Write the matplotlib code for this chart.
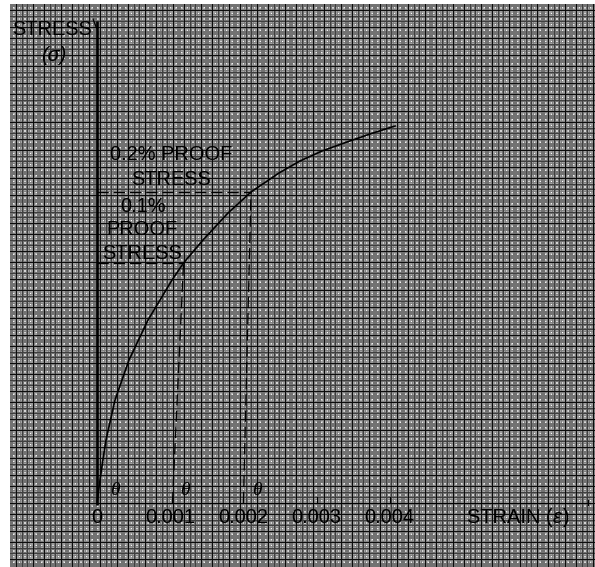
import numpy as np
import matplotlib
matplotlib.use("Agg")
import matplotlib.pyplot as plt
from matplotlib.patches import Arc

# Stress-strain curve (strain, stress in arbitrary units)
strain = [0.0, 0.0000355, 0.0000806, 0.000123, 0.000246, 0.000437, 0.000697,
          0.001025, 0.001182, 0.001448, 0.001790, 0.002104, 0.002486, 0.002773,
          0.003074, 0.003415, 0.003730, 0.004071]
stress = [0, 20, 43, 63, 103, 143, 183, 223, 240, 263, 290, 311, 330, 342,
          352, 361, 369, 377]

# Proof stresses: offset strain where the parallel line starts, and where it meets the curve
proof_offsets = [0.00103, 0.00200]
proof_strain = [0.001182, 0.002104]
proof_stress = [240, 311]

tick_values = [0.0, 0.001, 0.002, 0.003, 0.004]
tick_labels = ["0", "0.001", "0.002", "0.003", "0.004"]

W, H = 595, 567
fig = plt.figure(figsize=(W / 100, H / 100), dpi=100)
fig.patch.set_facecolor("white")

# graph-paper background
pw, ph = 585, 563


def line_cov(n, period, width, offset):
    c = np.arange(n) + 0.5
    d = np.abs(((c - offset + period / 2) % period) - period / 2)
    return np.clip(width / 2 + 0.5 - d, 0, 1)


P = 5.6
bx = line_cov(pw, P, 1.1, 1.0)
by = line_cov(ph, P, 1.1, 1.0)
fx = line_cov(pw, P / 2, 1.4, 1.0 + P / 4)
fy = line_cov(ph, P / 2, 1.4, 1.0 + P / 4)
dark = np.maximum.reduce([
    np.broadcast_to(bx[None, :], (ph, pw)),
    np.broadcast_to(by[:, None], (ph, pw)),
    0.55 * np.broadcast_to(fx[None, :], (ph, pw)),
    0.55 * np.broadcast_to(fy[:, None], (ph, pw)),
])
g = 1 - dark
img = np.dstack([g, g, g, np.ones_like(g)])
fig.figimage(img, xo=10, yo=0, origin="upper")

ax = fig.add_axes([0, 0, 1, 1])
ax.set_zorder(1)
ax.patch.set_visible(False)
x0, sx = 97, 73200.0
y0 = 503
ax.set_xlim(-x0 / sx, (W - x0) / sx)
ax.set_ylim(-(H - y0), y0)
ax.axis("off")


def px(xp):
    return (xp - x0) / sx


def py(yp):
    return y0 - yp


# axes
ax.plot([0, 0], [py(505), py(21)], color="black", lw=1.9, solid_capstyle="butt")
ax.plot([px(93), px(96.5)], [py(19), py(28)], color="black", lw=0.9)
ax.plot([0, px(590)], [0, 0], color="black", lw=0.8)
for xv in [0.003, 0.004]:
    ax.plot([xv, xv], [0, 6], color="black", lw=0.8)
ax.plot([px(588), px(588)], [-2, 3], color="black", lw=0.8)

# curve
ax.plot(strain, stress, color="black", lw=1.2)

# proof-stress construction lines
for off, ps, pst in zip(proof_offsets, proof_strain, proof_stress):
    ax.plot([off, ps], [0, pst], color="black", lw=0.9, dashes=(9, 4))
    ax.plot([0, ps], [pst, pst], color="black", lw=0.9, dashes=(9, 4))

# angle arcs and theta labels
arc_specs = [(0.0, 9, 20), (proof_offsets[0], 6, 14), (proof_offsets[1], 6, 14)]
for base, rx, ry in arc_specs:
    ax.add_patch(Arc((base, 0), 2 * rx / sx, 2 * ry, theta1=0, theta2=82,
                     color="black", lw=1.0))
for xp in [115, 185, 257]:
    ax.text(px(xp), py(495), "θ", fontsize=14, style="italic",
            family="Liberation Serif", ha="center", va="baseline")

fs = 14.4
font = dict(family="Liberation Sans", fontsize=fs, color="black")
ax.text(px(52), py(35), "STRESS", ha="center", va="baseline", **font)
ax.text(px(53.5), py(61), "(σ)", ha="center", va="baseline", style="italic", **font)
ax.text(px(171), py(160), "0.2% PROOF", ha="center", va="baseline", **font)
ax.text(px(171), py(185), "STRESS", ha="center", va="baseline", **font)
ax.text(px(143), py(212), "0.1%", ha="center", va="baseline", **font)
ax.text(px(142), py(235), "PROOF", ha="center", va="baseline", **font)
ax.text(px(142.5), py(259), "STRESS", ha="center", va="baseline", **font)

for v, lab in zip(tick_values, tick_labels):
    ax.text(v, py(523), lab, ha="center", va="baseline", **font)
ax.text(px(467), py(523), "STRAIN (", ha="left", va="baseline", **font)
ax.text(px(553), py(523), "ε", ha="left", va="baseline", style="italic", **font)
ax.text(px(563), py(523), ")", ha="left", va="baseline", **font)

fig.savefig("out.png", dpi=100, facecolor="white")
